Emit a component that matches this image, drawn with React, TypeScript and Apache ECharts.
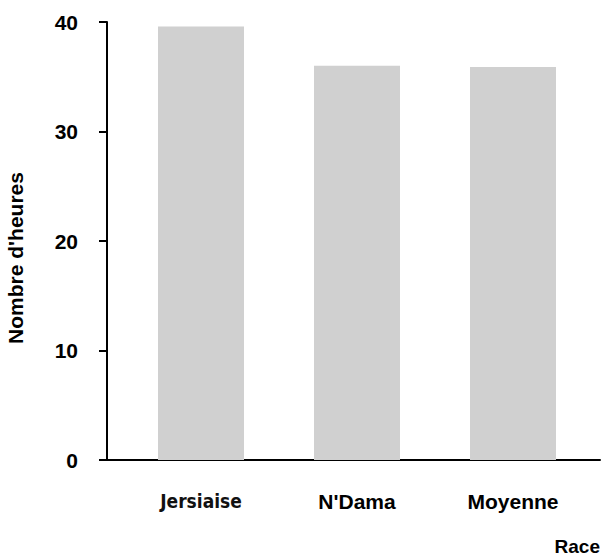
import React, { useEffect, useRef } from "react";
import * as echarts from "echarts";

const categories = ["Jersiaise", "N'Dama", "Moyenne"];
const hours = [39.6, 36.0, 35.9];
const yTicks = { min: 0, max: 40, interval: 10 };
const yTitle = "Nombre d'heures";
const xTitle = "Race";

const FONT = "'Liberation Sans', Arial, sans-serif";
const ALT_FONT = "'DejaVu Sans Condensed', 'Liberation Sans', sans-serif";

export default function App() {
  const ref = useRef<HTMLDivElement>(null);
  useEffect(() => {
    if (!ref.current) return;
    const chart = echarts.init(ref.current, undefined, { renderer: "svg" });
    const top = 22;
    const bottom = 97;
    chart.setOption({
      animation: false,
      backgroundColor: "#ffffff",
      textStyle: { fontFamily: FONT },
      grid: [
        { left: 107, right: 2, top, bottom, containLabel: false },
        { left: 123, right: 11, top, bottom, containLabel: false },
      ],
      xAxis: [
        {
          type: "value",
          gridIndex: 0,
          min: 0,
          max: 1,
          axisLine: { show: true, onZero: false, lineStyle: { color: "#000", width: 2 } },
          axisTick: { show: false },
          axisLabel: { show: false },
          splitLine: { show: false },
        },
        {
          type: "category",
          gridIndex: 1,
          data: categories,
          axisLine: { show: false },
          axisTick: { show: false },
          axisLabel: {
            interval: 0,
            hideOverlap: false,
            margin: 31,
            fontSize: 21,
            fontWeight: "bold",
            color: "#000",
            fontFamily: FONT,
            formatter: (v: string, i: number) => (i === 0 ? `{s|${v}}` : v),
            rich: {
              s: { fontSize: 19, fontWeight: "bold", color: "#111", fontFamily: ALT_FONT },
            },
          },
          splitLine: { show: false },
        },
      ],
      yAxis: [
        {
          type: "value",
          gridIndex: 0,
          min: yTicks.min,
          max: yTicks.max,
          interval: yTicks.interval,
          axisLine: { show: true, lineStyle: { color: "#000", width: 2 } },
          axisTick: { show: true, inside: false, length: 8, lineStyle: { color: "#000", width: 2 } },
          axisLabel: {
            margin: 29,
            fontSize: 21,
            fontWeight: "bold",
            color: "#000",
            fontFamily: FONT,
          },
          splitLine: { show: false },
        },
        {
          type: "value",
          gridIndex: 1,
          min: yTicks.min,
          max: yTicks.max,
          interval: yTicks.interval,
          axisLine: { show: false },
          axisTick: { show: false },
          axisLabel: { show: false },
          splitLine: { show: false },
        },
      ],
      series: [
        {
          type: "bar",
          xAxisIndex: 1,
          yAxisIndex: 1,
          data: hours,
          barWidth: 86,
          itemStyle: { color: "#d0d0d0" },
          silent: true,
        },
      ],
      graphic: [
        {
          type: "text",
          x: 15,
          y: 258,
          rotation: Math.PI / 2,
          style: {
            text: yTitle,
            fontSize: 21,
            fontWeight: "bold",
            fontFamily: FONT,
            fill: "#000",
            align: "center",
            verticalAlign: "middle",
          },
        },
        {
          type: "text",
          x: 600,
          y: 546,
          style: {
            text: xTitle,
            fontSize: 19,
            fontWeight: "bold",
            fontFamily: FONT,
            fill: "#000",
            align: "right",
            verticalAlign: "middle",
          },
        },
      ],
    });
    return () => chart.dispose();
  }, []);
  return (
    <div
      ref={ref}
      style={{ position: "fixed", left: 0, top: 0, width: 602, height: 557 }}
    />
  );
}
